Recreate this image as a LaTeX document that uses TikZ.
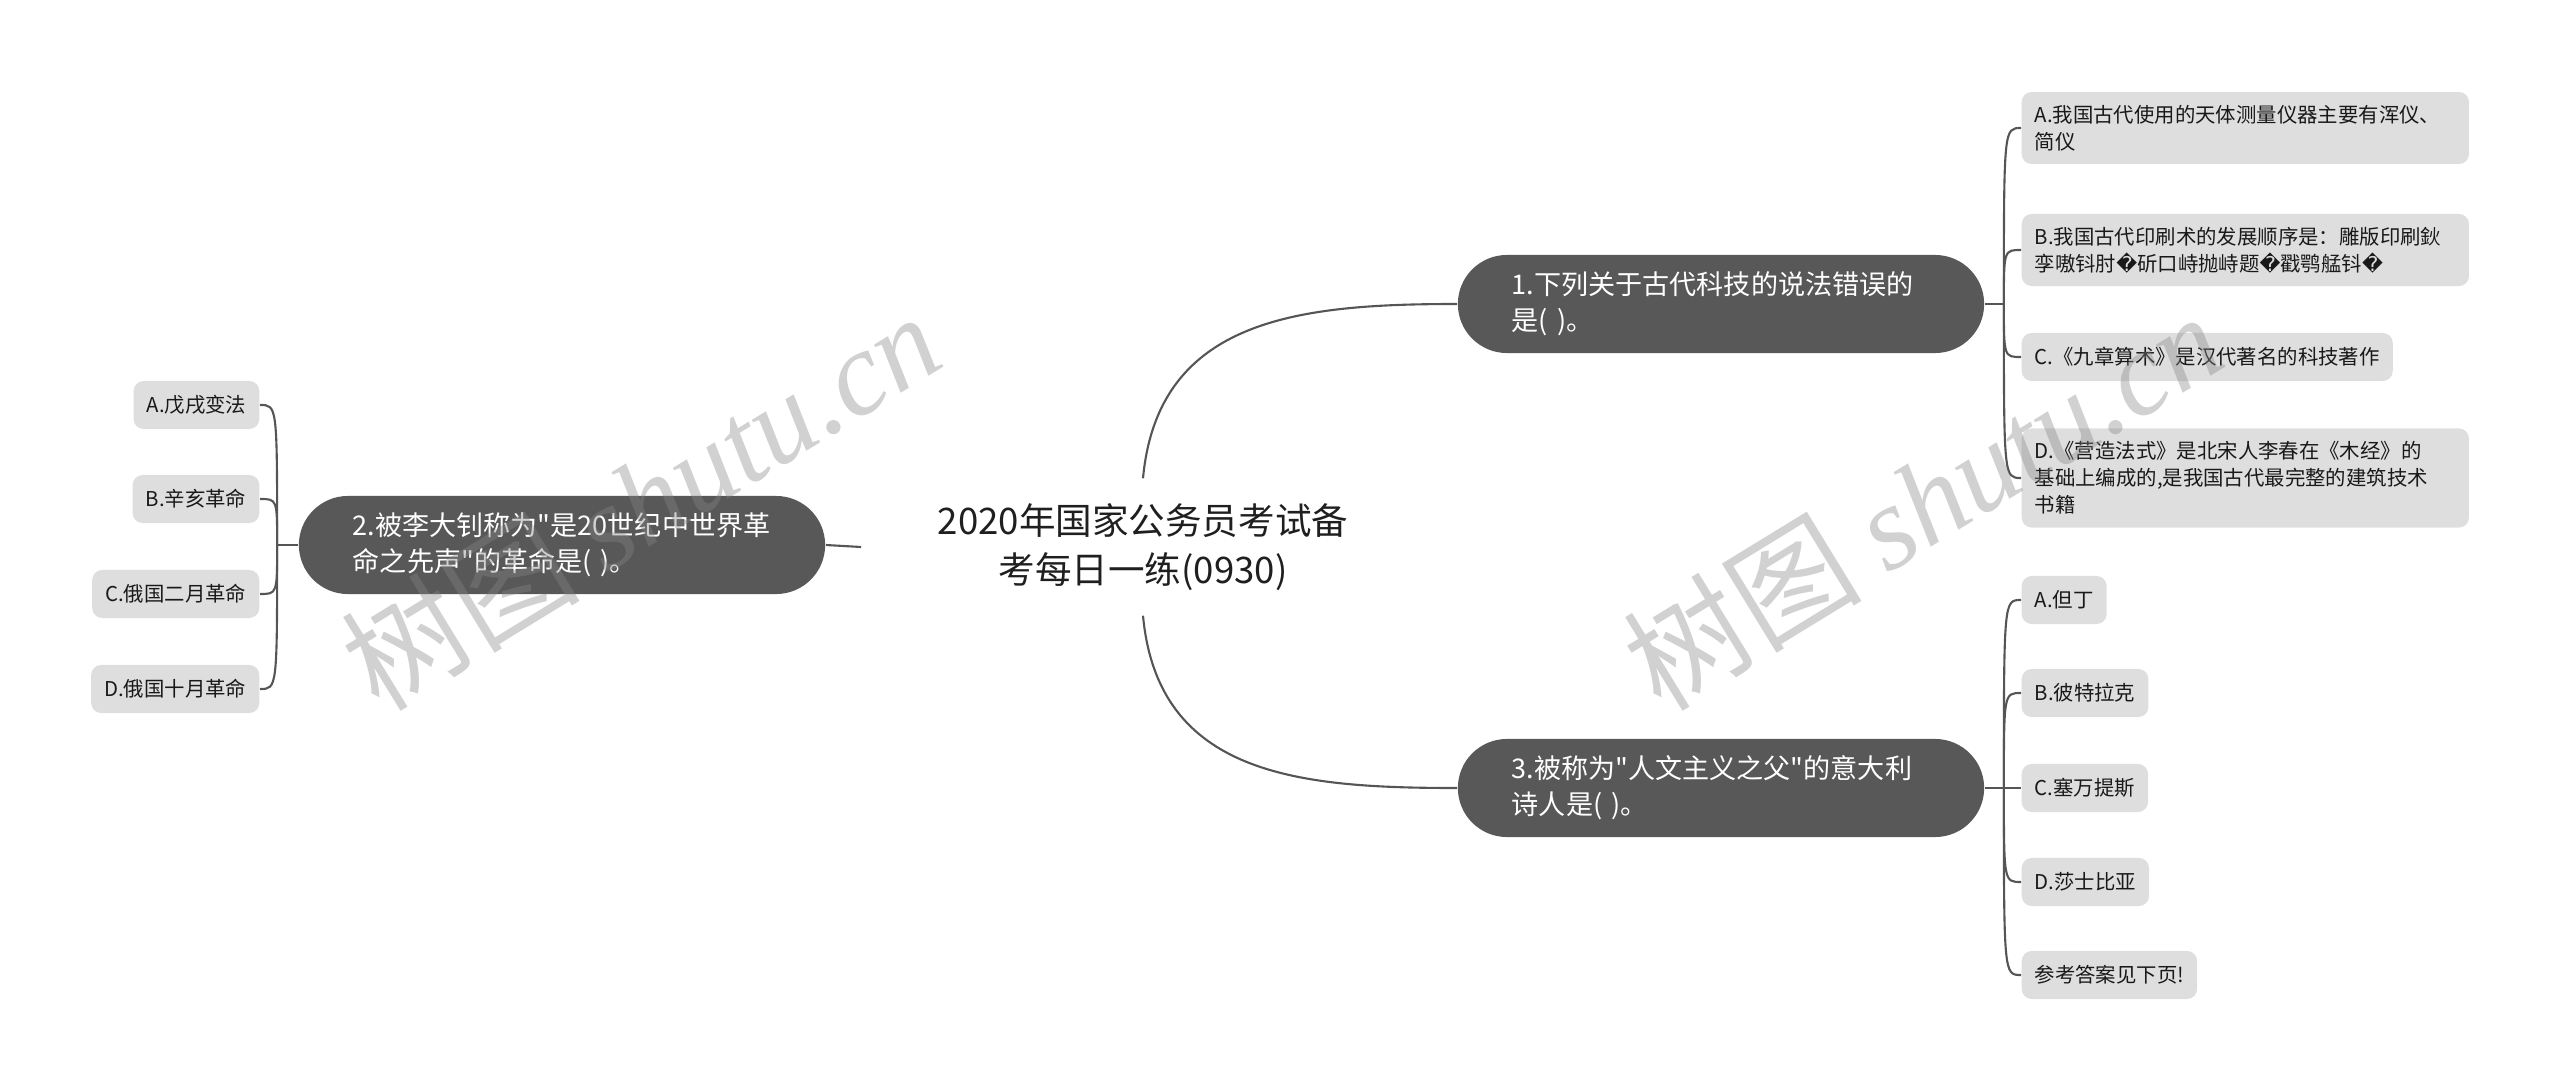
\documentclass[tikz,border=0pt]{standalone}
\usepackage{fontspec}
\setmainfont{Noto Sans CJK SC}
\newfontfamily\cjkfont{Noto Sans CJK SC}
\newfontfamily\replfont{DejaVu Sans}
\newfontfamily\wmlatin{Liberation Serif}
\usetikzlibrary{calc}
\definecolor{qgray}{HTML}{585858}
\definecolor{leafgray}{HTML}{DEDEDE}
\definecolor{linegray}{HTML}{555555}
\definecolor{wmgray}{HTML}{858585}
\newcommand{\badchar}{{\replfont\char"FFFD}}
\begin{document}
\begin{tikzpicture}[x=0.01cm,y=-0.01cm,
  title/.style={align=center,minimum width=5.62cm,minimum height=1.36cm,inner sep=0pt,text=black!88,font=\cjkfont\fontsize{10.4}{13.9}\selectfont},
  qbox/.style={fill=qgray,text=white,rounded corners=0.49cm,minimum width=5.26cm,minimum height=0.98cm,text width=4.18cm,align=left,inner sep=0pt,font=\cjkfont\fontsize{7.7}{10.2}\selectfont},
  leaf/.style={fill=leafgray,text=black!90,rounded corners=0.1cm,inner xsep=0.13cm,inner ysep=0.13cm,minimum height=0.48cm,align=left,font=\cjkfont\fontsize{5.8}{7.7}\selectfont},
  wide/.style={text width=4.21cm},
  link/.style={draw=linegray,line width=0.6pt},
  wmark/.style={text=wmgray,text opacity=0.38,rotate=31.5,font=\cjkfont\fontsize{34}{34}\selectfont}]
\useasboundingbox (0,0) rectangle (2560,1091);
\node[title] (root) at (1143,547) {2020年国家公务员考试备\\考每日一练(0930)};
\node[qbox] (q1) at (1721,304) {1.下列关于古代科技的说法错误的\\是( )。};
\node[qbox] (q2) at (562,545) {2.被李大钊称为"是20世纪中世界革\\命之先声"的革命是( )。};
\node[qbox] (q3) at (1721,788) {3.被称为"人文主义之父"的意大利\\诗人是( )。};
\node[leaf,wide,anchor=west] (q1a) at (2021,128) {A.我国古代使用的天体测量仪器主要有浑仪、\\简仪};
\node[leaf,wide,anchor=west] (q1b) at (2021,250) {B.我国古代印刷术的发展顺序是：雕版印刷鈥\\孪嗷钭肘\badchar 斫口峙抛峙题\badchar 戳鹗艋钭\badchar};
\node[leaf,anchor=west] (q1c) at (2021,357) {C.《九章算术》是汉代著名的科技著作};
\node[leaf,wide,anchor=west] (q1d) at (2021,478) {D.《营造法式》是北宋人李春在《木经》的\\基础上编成的,是我国古代最完整的建筑技术\\书籍};
\node[leaf,anchor=east] (q2a) at (260,405) {A.戊戌变法};
\node[leaf,anchor=east] (q2b) at (260,499) {B.辛亥革命};
\node[leaf,anchor=east] (q2c) at (260,594) {C.俄国二月革命};
\node[leaf,anchor=east] (q2d) at (260,689) {D.俄国十月革命};
\node[leaf,anchor=west] (q3a) at (2021,600) {A.但丁};
\node[leaf,anchor=west] (q3b) at (2021,693) {B.彼特拉克};
\node[leaf,anchor=west] (q3c) at (2021,788) {C.塞万提斯};
\node[leaf,anchor=west] (q3d) at (2021,882) {D.莎士比亚};
\node[leaf,anchor=west] (q3e) at (2021,975) {参考答案见下页!};
\coordinate (j1) at ($(q1.east)+(19,0)$);
\coordinate (j2) at ($(q2.west)+(-21,0)$);
\coordinate (j3) at ($(q3.east)+(19,0)$);
\draw[link] (root.north) .. controls +(15,-160) and +(-158,0) .. (q1.west);
\draw[link] (root.south) .. controls +(15,160) and +(-158,0) .. (q3.west);
\draw[link] (root.west) -- (q2.east);
\draw[link] (q1.east) -- (j1);
\draw[link] (q2.west) -- (j2);
\draw[link] (q3.east) -- (j3);
\foreach \n in {q1a,q1b,q1c,q1d}
  \draw[link] (j1) .. controls (j1 |- \n.west) .. (\n.west);
\foreach \n in {q3a,q3b,q3c,q3d,q3e}
  \draw[link] (j3) .. controls (j3 |- \n.west) .. (\n.west);
\foreach \n in {q2a,q2b,q2c,q2d}
  \draw[link] (j2) .. controls (j2 |- \n.east) .. (\n.east);
\node[wmark] (wm1) at (640,500) {树图 {\wmlatin\itshape shutu.cn}};
\node[wmark] (wm2) at (1922,500) {树图 {\wmlatin\itshape shutu.cn}};
\end{tikzpicture}
\end{document}
